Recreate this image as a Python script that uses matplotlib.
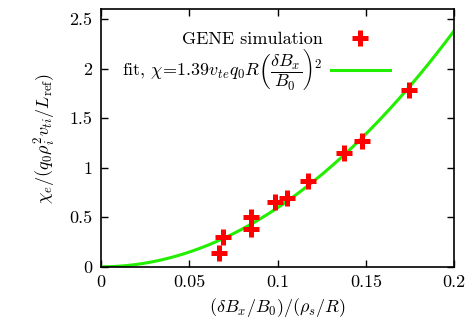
import matplotlib
matplotlib.use("Agg")
import matplotlib.pyplot as plt
import numpy as np

plt.rcParams['font.family'] = 'serif'
plt.rcParams['font.serif'] = ['cmr10', 'DejaVu Serif']
plt.rcParams['mathtext.fontset'] = 'cm'
plt.rcParams['axes.unicode_minus'] = False

sim_x = [0.0670, 0.0690, 0.0848, 0.0848, 0.0986, 0.1052, 0.1175, 0.1377, 0.1477, 0.1743]
sim_y = [0.141, 0.303, 0.505, 0.387, 0.656, 0.696, 0.865, 1.150, 1.268, 1.783]
fit_coef = 59.6

xticks = [0, 0.05, 0.1, 0.15, 0.2]
xticklabels = ['0', '0.05', '0.1', '0.15', '0.2']
yticks = [0, 0.5, 1, 1.5, 2, 2.5]
yticklabels = ['0', '0.5', '1', '1.5', '2', '2.5']

fig = plt.figure(figsize=(4.76, 3.25), dpi=100)
ax = fig.add_axes([0.212, 0.179, 0.742, 0.792])

xf = np.linspace(0, 0.2, 300)
ax.plot(sim_x, sim_y, linestyle='none', marker='+', color='red', markersize=12,
        markeredgewidth=3.6, label='GENE simulation', zorder=3)
ax.plot(xf, fit_coef * xf**2, color='#22ee00', linewidth=2.2,
        label=r'fit, $\chi\!=\!1.39 v_{te} q_0 R \left(\dfrac{\delta B_x}{B_0}\right)^2$', zorder=2)

ax.set_xlim(0, 0.2)
ax.set_ylim(0, 2.6)
ax.set_xticks(xticks)
ax.set_xticklabels(xticklabels)
ax.set_yticks(yticks)
ax.set_yticklabels(yticklabels)
ax.tick_params(direction='in', top=True, right=True, length=5, width=1, labelsize=13, pad=6)
for s in ax.spines.values():
    s.set_linewidth(1.2)

ax.set_xlabel(r'$(\delta B_x/B_0)/(\rho_s/R)$', fontsize=13, labelpad=4)
ax.set_ylabel(r'$\chi_e/(q_0\rho_i^2 v_{ti}/L_{\rm ref})$', fontsize=13, labelpad=8)

leg = ax.legend(loc='upper right', bbox_to_anchor=(0.819, 0.915), frameon=False, markerfirst=False,
                fontsize=13, handlelength=3.3, handletextpad=0.45, borderaxespad=0, borderpad=0,
                labelspacing=0.02)
for col in leg._legend_box._children[1]._children:
    col.align = 'right'

fig.savefig('out.png', dpi=100)
